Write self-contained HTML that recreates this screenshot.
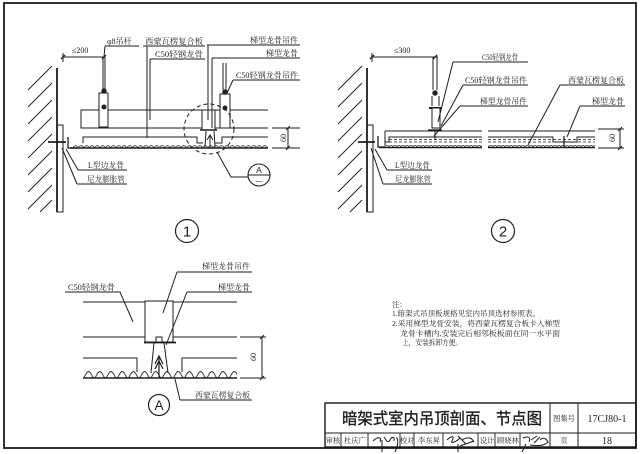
<!DOCTYPE html>
<html><head><meta charset="utf-8"><style>
html,body{margin:0;padding:0;background:#fff;}
svg{display:block;}
.l{stroke:#1e1e1e;stroke-width:1;fill:none;}
.t{font-family:"Liberation Serif","Noto Serif CJK SC",serif;font-size:8px;fill:#1e1e1e;}
.n{font-family:"Liberation Serif","Noto Serif CJK SC",serif;font-size:7.3px;fill:#1e1e1e;}
</style></head><body>
<svg width="644" height="454" viewBox="0 0 644 454" xmlns="http://www.w3.org/2000/svg">
<defs>
<pattern id="s1" x="73" y="143" width="5.4" height="5" patternUnits="userSpaceOnUse"><path d="M0.4,5 A2.3,2.3 0 0 1 5,5" stroke="#222" stroke-width="0.8" fill="none"/></pattern>
<pattern id="s2" x="385" y="144" width="4" height="3" patternUnits="userSpaceOnUse"><path d="M0.3,3 A1.7,1.7 0 0 1 3.7,3" stroke="#333" stroke-width="0.7" fill="none"/></pattern>
<pattern id="s3" x="83" y="370" width="11.2" height="8" patternUnits="userSpaceOnUse"><path d="M0,8 C2,8 3,1.5 5.6,1.5 C8.2,1.5 9.2,8 11.2,8" stroke="#222" stroke-width="0.9" fill="none"/></pattern>
</defs>
<rect x="0" y="0" width="644" height="454" fill="#fff"/>
<!-- frame -->
<rect x="4" y="3" width="632" height="445" fill="none" stroke="#1a1a1a" stroke-width="1.8"/>

<!-- ============ Drawing 1 ============ -->
<g class="l">
<path d="M28,90 L52,66 M28,107 L52,83 M28,124 L52,100 M28,141 L52,117 M28,158 L52,134 M28,175 L52,151 M28,192 L52,168 M28,209 L52,185 M40,212 L52,200" stroke-width="0.9"/>
<line x1="57" y1="68" x2="57" y2="212" stroke-width="1.8"/>
<rect x="57" y="125" width="6" height="87"/>
<line x1="48" y1="142" x2="66" y2="142" stroke-width="1.8"/>
<path d="M68,137 V148 H76" stroke-width="1.3"/>
<!-- dim 200 -->
<line x1="63" y1="57" x2="104" y2="57"/>
<line x1="63" y1="53" x2="63" y2="62"/>
<path d="M61,59 L65,55 M102,59 L106,55" stroke-width="1.3"/>
<!-- hanger 1 -->
<path d="M103,57 V90 M105,57 V90"/>
<path d="M268,110 H81 V128 H268"/>
<rect x="99" y="93" width="9" height="34" fill="#fff"/>
<circle cx="104" cy="91" r="2.7" fill="#222" stroke="none"/>
<circle cx="104" cy="107" r="2.5" fill="#222" stroke="none"/>
<!-- hanger 2 -->
<path d="M223,63 V90 M226,63 V90"/>
<rect x="220" y="94" width="10" height="34" fill="#fff"/>
<circle cx="225" cy="92" r="2.7" fill="#222" stroke="none"/>
<circle cx="225" cy="108" r="2.5" fill="#222" stroke="none"/>
<!-- ladder hanger -->
<rect x="202" y="110" width="13" height="20" fill="#fff"/>
<line x1="200" y1="130" x2="217" y2="130" stroke-width="1.5"/>
<!-- panel -->
<path d="M83,143 V137 H197 V143 H203 M215,143 H222 V137 H268"/>
<rect x="73" y="143" width="195" height="5" fill="url(#s1)" stroke="none"/>
<line x1="70" y1="148" x2="268" y2="148" stroke-width="1.4"/>
<!-- ladder keel -->
<path d="M206,131 L205,147 M214,131 L215,147 M210,136 V148 M207,140 L210,135 L213,140"/>
<!-- dashed circle -->
<circle cx="209" cy="129" r="25" stroke-dasharray="4,3"/>
<!-- dim 60 -->
<path d="M272,128 H300 M272,148 H300 M288,128 V148 M286,130 L290,126 M286,150 L290,146" />
<!-- leaders -->
<path d="M105,46 H139 M105,46 L104,57"/>
<path d="M143,46 H205 M147,46 V138"/>
<path d="M150,59 H205 M150,59 V120"/>
<path d="M207,45 H300 M208,45 V120"/>
<path d="M212,58 H300 M212,58 V128"/>
<path d="M233,80 H300 M233,80 L227,93"/>
<path d="M78,170 H127 M78,170 L66,149"/>
<path d="M77,184 H127 M77,184 L62,148"/>
<path d="M217,152 L231,177 H248"/>
<circle cx="259" cy="175" r="11" stroke-width="1.1"/>
<line x1="248" y1="175" x2="270" y2="175"/>
<circle cx="187" cy="231" r="11.5" stroke-width="1.2"/>
</g>
<text class="t" x="72" y="53" font-family="Liberation Sans" font-size="10">≤200</text>
<text class="t" x="107" y="44">φ8吊杆</text>
<text class="t" x="145" y="44" textLength="58" lengthAdjust="spacingAndGlyphs">西蒙瓦楞复合板</text>
<text class="t" x="155" y="57" textLength="48" lengthAdjust="spacingAndGlyphs">C50轻钢龙骨</text>
<text class="t" x="250" y="43" textLength="48" lengthAdjust="spacingAndGlyphs">梯型龙骨吊件</text>
<text class="t" x="266" y="56" textLength="32" lengthAdjust="spacingAndGlyphs">梯型龙骨</text>
<text class="t" x="236" y="78" textLength="62" lengthAdjust="spacingAndGlyphs">C50轻钢龙骨吊件</text>
<text class="t" x="88" y="168" textLength="36" lengthAdjust="spacingAndGlyphs">L型边龙骨</text>
<text class="t" x="87" y="182" textLength="38" lengthAdjust="spacingAndGlyphs">尼龙膨胀管</text>
<text class="t" x="286" y="138" transform="rotate(-90 286 138)" text-anchor="middle" font-size="8.5">60</text>
<text x="259" y="173" text-anchor="middle" font-family="Liberation Sans" font-size="8.5" fill="#1e1e1e">A</text>
<text x="259" y="183" text-anchor="middle" font-family="Liberation Sans" font-size="7" fill="#1e1e1e">—</text>
<text x="187" y="236.5" text-anchor="middle" font-family="Liberation Sans" font-size="15" fill="#1e1e1e">1</text>

<!-- ============ Drawing 2 ============ -->
<g class="l">
<path d="M338,90 L362,66 M338,107 L362,83 M338,124 L362,100 M338,141 L362,117 M338,158 L362,134 M338,175 L362,151 M338,192 L362,168 M338,209 L362,185 M350,212 L362,200" stroke-width="0.9"/>
<line x1="367" y1="68" x2="367" y2="212" stroke-width="1.8"/>
<rect x="367" y="125" width="6" height="87"/>
<line x1="358" y1="142" x2="375" y2="142" stroke-width="1.8"/>
<path d="M378,136 V147 H386" stroke-width="1.3"/>
<!-- dim 300 -->
<line x1="372" y1="57" x2="438" y2="57"/>
<line x1="372" y1="53" x2="372" y2="62"/>
<path d="M370,59 L374,55 M433,59 L437,55" stroke-width="1.3"/>
<!-- hanger -->
<path d="M433,57 V90 M437,57 V90"/>
<circle cx="435" cy="93" r="2.7" fill="#222" stroke="none"/>
<path d="M432,96 V106 M439,96 V106"/>
<line x1="429" y1="108" x2="442" y2="108" stroke-width="2"/>
<rect x="432" y="108" width="8" height="20" fill="#fff"/>
<line x1="428" y1="130" x2="442" y2="130" stroke-width="1.3"/>
<line x1="435" y1="130" x2="435" y2="140"/>
<!-- panel -->
<path d="M385,131 H482 M488,131 H595"/>
<path d="M385,131 V146 M385,142 H389 V137 H482 M488,137 H553 V142 H577 V137 H595"/>
<path d="M389,139.5 H482 M488,139.5 H595 M389,142 H482 M488,142 H595" stroke-dasharray="3,2" stroke-width="0.7"/>
<rect x="386" y="144" width="96" height="3" fill="url(#s2)" stroke="none"/>
<rect x="488" y="144" width="107" height="3" fill="url(#s2)" stroke="none"/>
<path d="M379,147.5 H482 M488,147.5 H595" stroke-width="1.4"/>
<line x1="564" y1="136" x2="564" y2="147" stroke-width="1.3"/>
<!-- dim 60 -->
<path d="M598,129 H624 M598,148 H624 M620,129 V148 M618,131 L622,127 M618,150 L622,146"/>
<!-- leaders -->
<path d="M453,62 H528 M453,62 L438,122"/>
<path d="M463,85 H528 M463,85 L441,126"/>
<path d="M460,106 H528 M460,106 L434,136"/>
<path d="M560,85 H625 M560,85 L528,145"/>
<path d="M580,106 H625 M580,106 L567,137"/>
<path d="M387,170 H432 M387,170 L375,149"/>
<path d="M383,184 H432 M383,184 L371,148"/>
<circle cx="503" cy="231" r="11.5" stroke-width="1.2"/>
</g>
<text class="t" x="394" y="53" font-family="Liberation Sans" font-size="10">≤300</text>
<text class="t" x="482" y="60" textLength="36" lengthAdjust="spacingAndGlyphs">C50轻钢龙骨</text>
<text class="t" x="465" y="83" textLength="62" lengthAdjust="spacingAndGlyphs">C50轻钢龙骨吊件</text>
<text class="t" x="480" y="104" textLength="47" lengthAdjust="spacingAndGlyphs">梯型龙骨吊件</text>
<text class="t" x="568" y="83" textLength="56" lengthAdjust="spacingAndGlyphs">西蒙瓦楞复合板</text>
<text class="t" x="592" y="104" textLength="32" lengthAdjust="spacingAndGlyphs">梯型龙骨</text>
<text class="t" x="395" y="168" textLength="35" lengthAdjust="spacingAndGlyphs">L型边龙骨</text>
<text class="t" x="395" y="182" textLength="36" lengthAdjust="spacingAndGlyphs">尼龙膨胀管</text>
<text class="t" x="615" y="138" transform="rotate(-90 615 138)" text-anchor="middle" font-size="8.5">60</text>
<text x="503" y="236.5" text-anchor="middle" font-family="Liberation Sans" font-size="15" fill="#1e1e1e">2</text>

<!-- ============ Detail A ============ -->
<g class="l">
<path d="M83,302 H237 M83,337 H237"/>
<path d="M83,358 H137 V372 M182,372 V358 H237"/>
<rect x="145" y="301" width="28" height="41" fill="#fff"/>
<line x1="144" y1="342.5" x2="176" y2="342.5" stroke-width="1.8"/>
<rect x="156" y="337" width="6" height="5"/>
<path d="M154,343 L151,373 M164,343 L168,373"/>
<path d="M159,378 V356 M155,364 L159,356 L163,364 M155,369 L159,361 L163,369" stroke-width="1.2"/>
<rect x="83" y="370" width="154" height="8" fill="url(#s3)" stroke="none"/>
<line x1="83" y1="378" x2="237" y2="378" stroke-width="1.4"/>
<!-- dim 60 -->
<path d="M240,337 H266 M240,378 H266 M262,337 V378 M260,339 L264,335 M260,380 L264,376"/>
<!-- leaders -->
<path d="M177,272 H252 M177,272 L163,313"/>
<path d="M187,292 H252 M187,292 L166,345"/>
<path d="M65,292 H120 L133,322"/>
<path d="M180,400 H252 M180,400 L175,379"/>
<circle cx="159" cy="405" r="10.5" stroke-width="1.2"/>
</g>
<text class="t" x="202" y="269" textLength="48" lengthAdjust="spacingAndGlyphs">梯型龙骨吊件</text>
<text class="t" x="218" y="290" textLength="32" lengthAdjust="spacingAndGlyphs">梯型龙骨</text>
<text class="t" x="68" y="290" textLength="47" lengthAdjust="spacingAndGlyphs">C50轻钢龙骨</text>
<text class="t" x="195" y="398" textLength="55" lengthAdjust="spacingAndGlyphs">西蒙瓦楞复合板</text>
<text class="t" x="256" y="357" transform="rotate(-90 256 357)" text-anchor="middle" font-size="8.5">60</text>
<text x="159" y="410" text-anchor="middle" font-family="Liberation Sans" font-size="13.5" fill="#1e1e1e">A</text>

<!-- ============ Notes ============ -->
<text class="n" x="392" y="307">注：</text>
<text class="n" x="392" y="316" textLength="148" lengthAdjust="spacingAndGlyphs">1.暗架式吊顶板规格见室内吊顶选材参照表。</text>
<text class="n" x="392" y="326" textLength="168" lengthAdjust="spacingAndGlyphs">2.采用梯型龙骨安装，将西蒙瓦楞复合板卡入梯型</text>
<text class="n" x="400" y="336" textLength="160" lengthAdjust="spacingAndGlyphs">龙骨卡槽内,安装完后相邻板板面在同一水平面</text>
<text class="n" x="402" y="345" textLength="60" lengthAdjust="spacingAndGlyphs">上，安装拆卸方便。</text>

<!-- ============ Title block ============ -->
<g stroke="#1a1a1a" fill="none">
<rect x="325" y="403" width="311" height="44" stroke-width="1.4"/>
<line x1="325" y1="433" x2="636" y2="433" stroke-width="1"/>
<path d="M550,403 V447 M578,403 V447" stroke-width="1"/>
<path d="M341,433 V447 M368,433 V447 M400,433 V447 M414,433 V447 M443,433 V447 M478,433 V447 M495,433 V447 M520,433 V447" stroke-width="0.9"/>
<!-- signatures -->
<path d="M373,441 C378,436 382,437 380,442 M384,437 C386,440 388,444 390,440 C392,436 395,437 394,441 M396,438 C398,437 399,444 395,452 M382,440 L382,452" stroke-width="1"/>
<path d="M447,440 C452,435 455,436 452,441 C450,444 456,442 460,438 M458,436 L466,444 M462,440 C468,436 472,438 474,442 M460,446 L474,441 M458,444 L458,452" stroke-width="1"/>
<path d="M523,438 C528,436 531,437 529,442 M531,440 L537,436 M534,443 L540,437 M540,440 C543,437 546,438 548,442 C544,446 538,446 530,445 M526,444 L522,452" stroke-width="1"/>
</g>
<text x="442" y="424" text-anchor="middle" font-family="'Noto Sans CJK SC',sans-serif" font-size="16" font-weight="normal" stroke="#1e1e1e" stroke-width="0.35" fill="#1e1e1e" textLength="200" lengthAdjust="spacingAndGlyphs">暗架式室内吊顶剖面、节点图</text>
<text class="n" x="564" y="421" text-anchor="middle" font-size="7.5">图集号</text>
<text x="607" y="422" text-anchor="middle" font-family="'Liberation Serif',serif" font-size="10" fill="#1e1e1e">17CJ80-1</text>
<text class="n" x="333" y="443" text-anchor="middle" font-size="7">审核</text>
<text class="n" x="355" y="443" text-anchor="middle" font-size="7">杜庆广</text>
<text class="n" x="407" y="443" text-anchor="middle" font-size="7">校对</text>
<text class="n" x="429" y="443" text-anchor="middle" font-size="7">李东昇</text>
<text class="n" x="487" y="443" text-anchor="middle" font-size="7">设计</text>
<text class="n" x="508" y="443" text-anchor="middle" font-size="7">顾晓林</text>
<text class="n" x="564" y="443" text-anchor="middle" font-size="7.5">页</text>
<text x="607" y="444" text-anchor="middle" font-family="'Liberation Serif',serif" font-size="10" fill="#1e1e1e">18</text>
</svg>
</body></html>
